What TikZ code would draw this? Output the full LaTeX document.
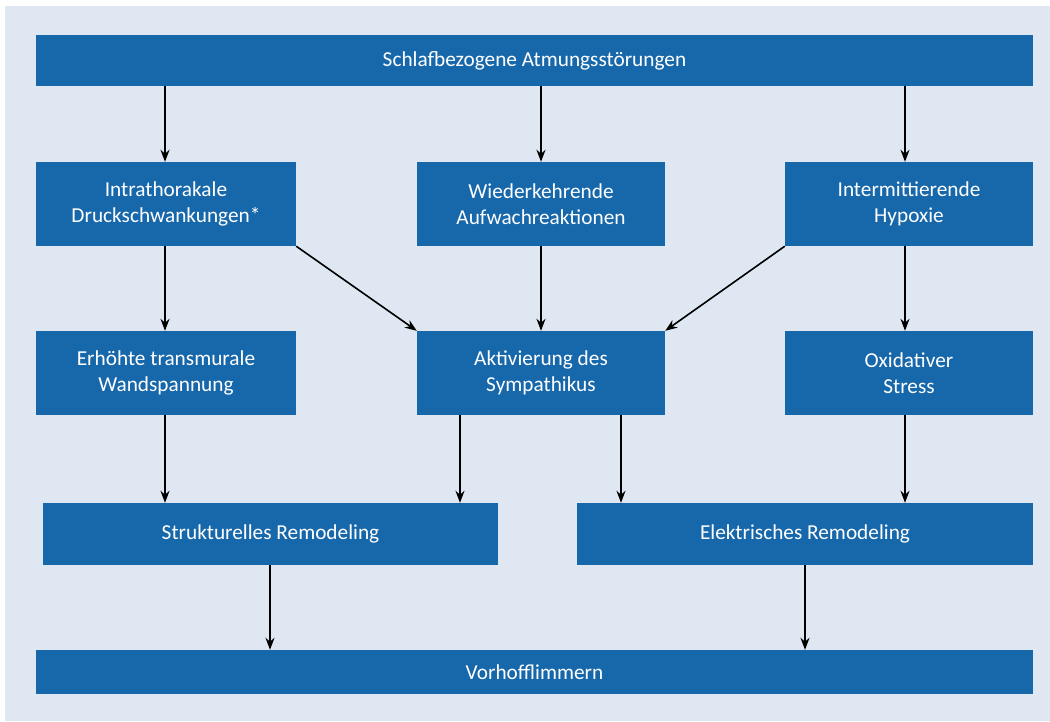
\documentclass[tikz,border=0pt]{standalone}
\usepackage{fontspec}
\setmainfont{Carlito}
\usetikzlibrary{arrows.meta}
\definecolor{boxblue}{HTML}{1767AB}
\definecolor{bgblue}{HTML}{DFE8F2}
\tikzset{
  box/.style={fill=boxblue, text=white, align=center, font=\fontsize{21.3}{26}\selectfont, inner sep=0pt},
  arr/.style={-{Stealth[length=12pt,width=9pt]}, line width=1.6pt, black},
}
\newcommand{\bx}[6]{% name, x1,y1,x2,y2, text
  \path[box] (#2,#3) rectangle (#4,#5);
  \node[box, fill=none, minimum width={(#4-#2)*1pt}, minimum height={(#5-#3)*1pt}] (#1) at ({(#2+#4)/2},{(#3+#5)/2}) {#6};
}
\begin{document}
\begin{tikzpicture}[x=1pt,y=-1pt]
\useasboundingbox (0,0) rectangle (1050,721);
\fill[white] (0,0) rectangle (1050,721);
\fill[bgblue] (5,6) rectangle (1050,721);
\bx{top}{36}{35}{1033}{86}{Schlafbezogene Atmungsstörungen}
\bx{itp}{36}{162}{296}{246}{Intrathorakale\\Druckschwankungen*}
\bx{wa}{417}{162}{665}{246}{Wiederkehrende\\Aufwachreaktionen}
\bx{ih}{785}{162}{1033}{246}{Intermittierende\\Hypoxie}
\bx{ew}{36}{331}{296}{415}{Erhöhte transmurale\\Wandspannung}
\bx{as}{417}{331}{665}{415}{Aktivierung des\\Sympathikus}
\bx{os}{785}{331}{1033}{415}{Oxidativer\\Stress}
\bx{sr}{43}{503}{498}{565}{Strukturelles Remodeling}
\bx{er}{577}{503}{1033}{565}{Elektrisches Remodeling}
\bx{vf}{36}{650}{1033}{694}{Vorhofflimmern}
% arrows
\draw[arr] (top.south -| 165,0) -- (itp.north -| 165,0);
\draw[arr] (top.south -| 541,0) -- (wa.north -| 541,0);
\draw[arr] (top.south -| 905,0) -- (ih.north -| 905,0);
\draw[arr] (itp.south -| 165,0) -- (ew.north -| 165,0);
\draw[arr] (wa.south -| 541,0) -- (as.north -| 541,0);
\draw[arr] (ih.south -| 905,0) -- (os.north -| 905,0);
\draw[arr] (itp.south east) -- (as.north west);
\draw[arr] (ih.south west) -- (as.north east);
\draw[arr] (ew.south -| 165,0) -- (sr.north -| 165,0);
\draw[arr] (as.south -| 460,0) -- (sr.north -| 460,0);
\draw[arr] (as.south -| 621,0) -- (er.north -| 621,0);
\draw[arr] (os.south -| 905,0) -- (er.north -| 905,0);
\draw[arr] (sr.south -| 270,0) -- (vf.north -| 270,0);
\draw[arr] (er.south -| 805,0) -- (vf.north -| 805,0);
\end{tikzpicture}
\end{document}
